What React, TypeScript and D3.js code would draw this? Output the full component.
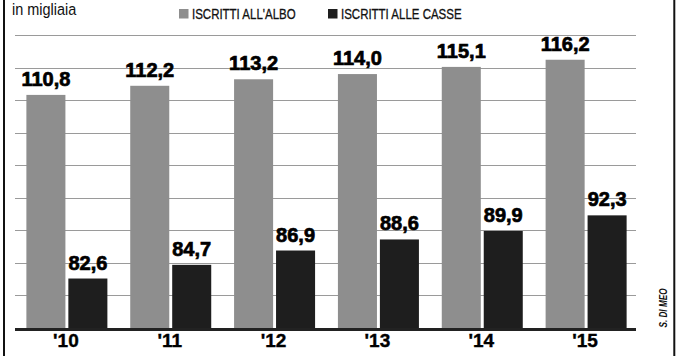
import React from "react";
import * as d3 from "d3";

const years = ["'10", "'11", "'12", "'13", "'14", "'15"];
const albo = [110.8, 112.2, 113.2, 114.0, 115.1, 116.2];
const casse = [82.6, 84.7, 86.9, 88.6, 89.9, 92.3];
const seriesKeys = ["albo", "casse"];
const seriesNames = ["ISCRITTI ALL'ALBO", "ISCRITTI ALLE CASSE"];
const seriesColors = ["#8e8e8e", "#1e1e1e"];
const gridTicks = [80, 85, 90, 95, 100, 105, 110, 115, 120];

const W = 683;
const H = 356;
const SANS = "'Liberation Sans', Arial, sans-serif";

const fmt = (v: number) => v.toFixed(1).replace(".", ",");

export default function App() {
  const y = d3.scaleLinear().domain([75, 120]).range([328, 35]);
  const x0 = d3.scaleBand<string>().domain(years).range([16, 637]).paddingInner(0.22).paddingOuter(0.1);
  const x1 = d3.scaleBand<string>().domain(seriesKeys).range([0, x0.bandwidth()]).paddingInner(0.07);
  const seriesValues = [albo, casse];

  return (
    <svg width={W} height={H} style={{ position: "absolute", left: 0, top: 0, display: "block", background: "#fff" }}>
      {/* frame */}
      <line x1={4} x2={4} y1={0} y2={H} stroke="#111" strokeWidth={2} />
      <line x1={674.3} x2={674.3} y1={0} y2={H} stroke="#111" strokeWidth={2} />

      {/* title */}
      <text transform="translate(12,15) scale(0.85,1)" fontFamily={SANS} fontSize={17} fill="#111">in migliaia</text>

      {/* legend */}
      {seriesNames.map((name, i) => {
        const lx = i === 0 ? 179 : 328;
        return (
          <g key={name}>
            <rect x={lx} y={9} width={9.5} height={9.5} fill={seriesColors[i]} />
            <text transform={`translate(${lx + 13},19) scale(0.82,1)`} fontFamily={SANS} fontSize={14} fill="#111" stroke="#111" strokeWidth={0.3}>{name}</text>
          </g>
        );
      })}

      {/* grid */}
      {gridTicks.map((t) => (
        <line key={t} x1={15} x2={636} y1={Math.round(y(t)) + 0.5} y2={Math.round(y(t)) + 0.5} stroke="#9a9a9a" strokeWidth={1} />
      ))}

      {/* bars */}
      {years.map((yr, gi) => (
        <g key={yr} transform={`translate(${x0(yr)},0)`}>
          {seriesKeys.map((k, si) => {
            const v = seriesValues[si][gi];
            const bx = x1(k)!;
            return (
              <g key={k}>
                <rect x={bx} y={y(v)} width={x1.bandwidth()} height={y(75) - y(v)} fill={seriesColors[si]} />
                <text
                  x={bx + x1.bandwidth() / 2}
                  y={y(v) - 9}
                  textAnchor="middle"
                  fontFamily={SANS}
                  fontWeight="bold"
                  fontSize={20}
                  fill="#000"
                  stroke="#000"
                  strokeWidth={0.7}
                >
                  {fmt(v)}
                </text>
              </g>
            );
          })}
          <text
            x={x0.bandwidth() / 2 - 1}
            y={347}
            textAnchor="middle"
            fontFamily={SANS}
            fontWeight="bold"
            fontSize={19}
            fill="#000"
            stroke="#000"
            strokeWidth={0.4}
          >
            {yr}
          </text>
        </g>
      ))}

      {/* baseline */}
      <line x1={15} x2={636} y1={329.5} y2={329.5} stroke="#222" strokeWidth={3} />

      {/* credit */}
      <text
        transform="translate(667,308) rotate(-90) scale(0.82,1)"
        textAnchor="middle"
        fontFamily={SANS}
        fontWeight="bold"
        fontStyle="italic"
        fontSize={10}
        fill="#111"
      >
        S. DI MEO
      </text>
    </svg>
  );
}
